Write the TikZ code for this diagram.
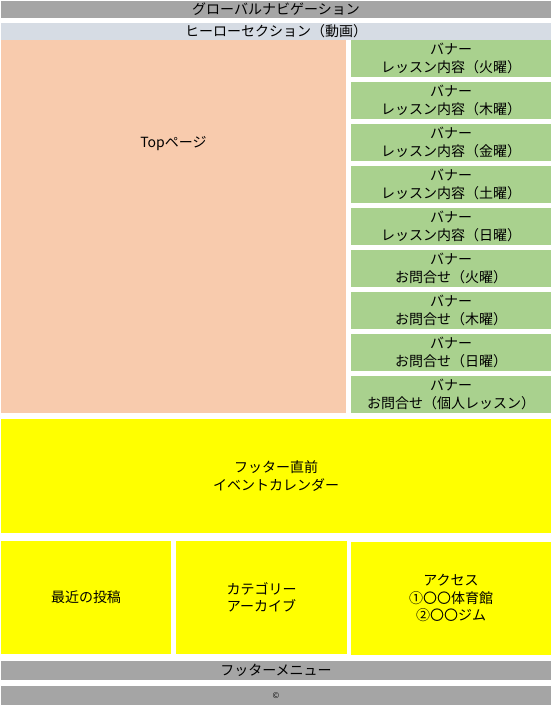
\documentclass[tikz,border=0pt]{standalone}
\usepackage{fontspec}
\setmainfont{Noto Sans CJK JP}
\definecolor{navgray}{HTML}{A5A5A5}
\definecolor{herobg}{HTML}{D6DCE4}
\definecolor{toporange}{HTML}{F8CBAD}
\definecolor{bannergreen}{HTML}{A9D18E}
\definecolor{footyellow}{HTML}{FFFF00}
\tikzset{
  area/.style={rectangle, inner sep=0pt, draw=none, align=center, font=\fontsize{14}{17.5}\selectfont},
  navbar/.style={area, fill=navgray},
  herobar/.style={area, fill=herobg},
  topbox/.style={area, fill=toporange},
  banner/.style={area, fill=bannergreen, minimum width=200pt, minimum height=37pt},
  footbox/.style={area, fill=footyellow},
  plaintext/.style={inner sep=0pt, align=center, font=\fontsize{14}{17.5}\selectfont},
}
\begin{document}
\begin{tikzpicture}[x=1pt,y=-1pt]
\useasboundingbox (0,0) rectangle (552,705);
\node[navbar, minimum width=550pt, minimum height=17pt] (nav) at (276,9.5) {グローバルナビゲーション};
\node[herobar, minimum width=550pt, minimum height=17pt] (hero) at (276,31.5) {ヒーローセクション（動画）};
\node[topbox, minimum width=345pt, minimum height=373pt] (top) at (173.5,226.5) {};
\node[plaintext] (toptext) at (173.5,143.5) {Topページ};
\node[banner] (b1) at (451,58.5) {バナー\\レッスン内容（火曜）};
\node[banner] (b2) at (451,100.5) {バナー\\レッスン内容（木曜）};
\node[banner] (b3) at (451,142.5) {バナー\\レッスン内容（金曜）};
\node[banner] (b4) at (451,184.5) {バナー\\レッスン内容（土曜）};
\node[banner] (b5) at (451,226.5) {バナー\\レッスン内容（日曜）};
\node[banner] (b6) at (451,268.5) {バナー\\お問合せ（火曜）};
\node[banner] (b7) at (451,310.5) {バナー\\お問合せ（木曜）};
\node[banner] (b8) at (451,352.5) {バナー\\お問合せ（日曜）};
\node[banner] (b9) at (451,394.5) {バナー\\お問合せ（個人レッスン）};
\node[footbox, minimum width=550pt, minimum height=114pt] (pre) at (276,476) {フッター直前\\イベントカレンダー};
\node[footbox, minimum width=170pt, minimum height=113pt] (recent) at (86,597.5) {最近の投稿};
\node[footbox, minimum width=171pt, minimum height=113pt] (cat) at (261.5,597.5) {カテゴリー\\アーカイブ};
\node[footbox, minimum width=200pt, minimum height=113pt] (access) at (451,598) {アクセス\\①〇〇体育館\\②〇〇ジム};
\node[navbar, minimum width=550pt, minimum height=19pt] (fmenu) at (276,670.5) {フッターメニュー};
\node[navbar, minimum width=550pt, minimum height=19pt, font=\fontsize{8}{10}\selectfont] (copy) at (276,695.5) {©};
\end{tikzpicture}
\end{document}
